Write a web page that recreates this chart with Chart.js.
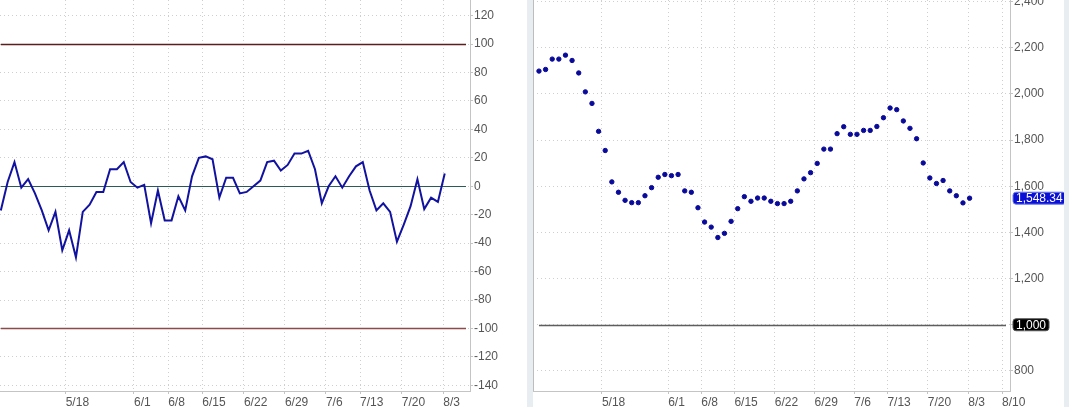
<!DOCTYPE html>
<html>
<head>
<meta charset="utf-8">
<script src="https://cdn.jsdelivr.net/npm/chart.js@4"></script>
<style>
  html, body { margin: 0; padding: 0; background: #fff; width: 1069px; height: 407px; overflow: hidden; }
  #gap { position: absolute; left: 527px; top: 0; width: 6px; height: 407px; background: #e8edf2; }
  #edge { position: absolute; left: 1064px; top: 0; width: 5px; height: 407px; background: #e8edf2; }
  #oscChart { position: absolute; left: 0; top: 0; }
  #priceChart { position: absolute; left: 533px; top: 0; }
</style>
</head>
<body>
<div id="gap"></div>
<div id="edge"></div>
<canvas id="oscChart" width="527" height="407"></canvas>
<canvas id="priceChart" width="531" height="407"></canvas>
<script>
// date labels and the bar index where each falls
const tickLabels = ['5/18', '6/1', '6/8', '6/15', '6/22', '6/29', '7/6', '7/13', '7/20', '8/3', '8/10'];
const tickIndex = [9.5, 19.5, 24.5, 29.5, 35.6, 41.6, 47.6, 52.6, 58.7, 64.8, 69.9];

// oscillator (left panel)
const oscValues = [-17, 3, 17, -1, 5, -5, -17, -31, -18, -45, -31, -50, -18, -13, -4, -4, 12, 12, 17, 3,
  -1, 1, -26, -3, -24, -24, -7, -17, 7, 20, 21, 19, -8, 6, 6, -5, -4, 0, 4, 17,
  18, 11, 15, 23, 23, 25, 12, -12, 0, 7, -1, 7, 14, 17, -3, -17, -12, -18, -39, -27,
  -14, 5, -16, -8, -11, 9];
const oscLevels = [100, 0, -100];

// price (right panel)
const priceValues = [2099, 2106, 2151, 2151, 2168, 2145, 2091, 2009, 1959, 1838, 1755, 1619, 1574, 1539, 1529, 1529, 1559, 1594, 1639, 1651,
  1646, 1651, 1580, 1574, 1507, 1445, 1423, 1378, 1396, 1448, 1503, 1555, 1535, 1549, 1549, 1535, 1525, 1525, 1535, 1580,
  1632, 1659, 1699, 1761, 1761, 1828, 1858, 1825, 1825, 1842, 1842, 1859, 1897, 1939, 1932, 1883, 1851, 1806, 1701, 1636,
  1612, 1625, 1580, 1559, 1528, 1548.34];
const priceLevels = [1000];

Chart.defaults.font.family = '"Liberation Sans", Arial, sans-serif';
Chart.defaults.font.size = 12;
Chart.defaults.color = '#555';

const fmt = v => v.toLocaleString('en-US');

// horizontal reference lines, left border and value badges
const overlay = {
    id: 'overlay',
    beforeDatasetsDraw(chart, args, opts) {
        const { ctx, chartArea, scales } = chart;
        const x0 = Math.max(chartArea.left, scales.x.getPixelForValue(0));
        (opts.lines || []).forEach(l => {
            const y = Math.round(scales.y.getPixelForValue(l.value)) + 0.5;
            ctx.save();
            ctx.strokeStyle = l.color;
            ctx.lineWidth = l.width;
            ctx.beginPath();
            ctx.moveTo(x0, y);
            ctx.lineTo(chartArea.right - 4, y);
            ctx.stroke();
            ctx.restore();
        });
        if (opts.leftBorder) {
            ctx.save();
            ctx.strokeStyle = '#bdbdbd';
            ctx.lineWidth = 1;
            ctx.beginPath();
            ctx.moveTo(chartArea.left + 0.5, chartArea.top);
            ctx.lineTo(chartArea.left + 0.5, chartArea.bottom);
            ctx.stroke();
            ctx.restore();
        }
    },
    afterDraw(chart, args, opts) {
        const { ctx, chartArea, scales } = chart;
        (opts.badges || []).forEach(b => {
            const y = scales.y.getPixelForValue(b.value);
            ctx.save();
            ctx.font = '12px "Liberation Sans", Arial, sans-serif';
            const w = ctx.measureText(b.text).width + 6;
            const h = 12;
            const x = chartArea.right + 3;
            ctx.fillStyle = b.bg;
            ctx.strokeStyle = b.edge;
            ctx.beginPath();
            ctx.roundRect(x, y - h / 2, w, h, 3);
            ctx.fill();
            ctx.stroke();
            ctx.fillStyle = '#fff';
            ctx.textBaseline = 'middle';
            ctx.fillText(b.text, x + 3, y + 0.5);
            ctx.restore();
        });
    }
};

function xAxis(min, max) {
    return {
        type: 'linear',
        min: min,
        max: max,
        afterBuildTicks: scale => {
            scale.ticks = tickIndex.filter(v => v >= min && v <= max).map(v => ({ value: v }));
        },
        afterFit: scale => {
            scale.height = 16;
            scale.paddingLeft = 0; scale.paddingRight = 0;
        },
        ticks: {
            autoSkip: false,
            maxRotation: 0,
            align: 'start',
            padding: 1,
            color: '#555',
            callback: (value) => tickLabels[tickIndex.indexOf(value)]
        },
        grid: { color: '#cfcfcf', tickLength: 3, tickColor: '#c4c4c4' },
        border: { color: '#c4c4c4', dash: [1, 3] }
    };
}

function yAxis(min, max, step, width) {
    return {
        type: 'linear',
        position: 'right',
        min: min,
        max: max,
        afterFit: scale => {
            scale.width = width;
            scale.paddingTop = 0; scale.paddingBottom = 0;
        },
        ticks: {
            stepSize: step,
            includeBounds: false,
            padding: 1,
            color: '#555',
            callback: v => fmt(v)
        },
        grid: { color: '#cfcfcf', tickLength: 3, tickColor: '#c4c4c4' },
        border: { color: '#c4c4c4', dash: [1, 3] }
    };
}

new Chart(document.getElementById('oscChart'), {
    type: 'line',
    data: {
        datasets: [{
            data: oscValues.map((v, i) => ({ x: i, y: v })),
            borderColor: '#1212a0',
            borderWidth: 2,
            pointRadius: 0,
            tension: 0
        }]
    },
    options: {
        responsive: false,
        animation: false,
        layout: { padding: 0, autoPadding: false },
        plugins: {
            legend: { display: false },
            tooltip: { enabled: false },
            overlay: {
                lines: [
                    { value: oscLevels[0], color: '#5a1e1e', width: 1.5 },
                    { value: oscLevels[1], color: '#2c5a5a', width: 1.2 },
                    { value: oscLevels[2], color: '#8c4a4a', width: 1.5 }
                ]
            }
        },
        scales: {
            x: xAxis(-0.12, 68.7),
            y: yAxis(-144, 131, 20, 57)
        }
    },
    plugins: [overlay]
});

new Chart(document.getElementById('priceChart'), {
    type: 'scatter',
    data: {
        datasets: [{
            data: priceValues.map((v, i) => ({ x: i, y: v })),
            backgroundColor: '#0a0a9a',
            borderColor: '#0a0a9a',
            pointRadius: 2.2,
            showLine: false
        }]
    },
    options: {
        responsive: false,
        animation: false,
        layout: { padding: 0, autoPadding: false },
        plugins: {
            legend: { display: false },
            tooltip: { enabled: false },
            overlay: {
                leftBorder: true,
                lines: [{ value: priceLevels[0], color: '#5e5e5e', width: 1.6 }],
                badges: [
                    { value: priceValues[priceValues.length - 1], text: fmt(priceValues[priceValues.length - 1]), bg: '#0b10d6', edge: '#6f7fe8' },
                    { value: priceLevels[0], text: fmt(priceLevels[0]), bg: '#000', edge: '#555' }
                ]
            }
        },
        scales: {
            x: xAxis(-0.9, 71.1),
            y: yAxis(713, 2407, 200, 54)
        }
    },
    plugins: [overlay]
});
</script>
</body>
</html>
